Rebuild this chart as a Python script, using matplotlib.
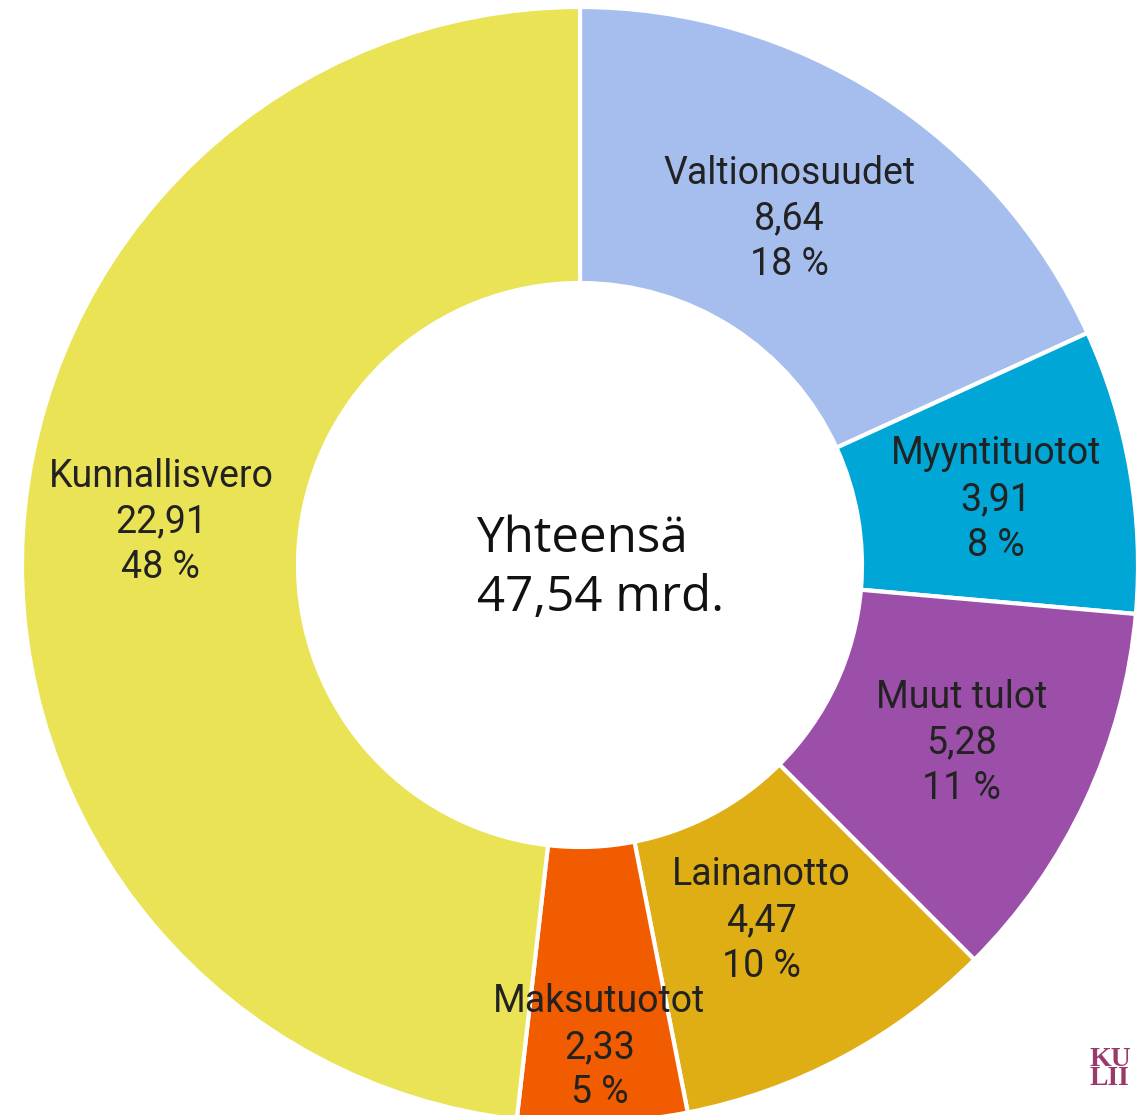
import numpy as np
import matplotlib.pyplot as plt

# ============================================================
# Data
# ============================================================

labels  = ["Valtionosuudet", "Myyntituotot", "Muut tulot",
           "Lainanotto", "Maksutuotot", "Kunnallisvero"]
values  = [8.64, 3.91, 5.28, 4.47, 2.33, 22.91]
percent = [18, 8, 11, 10, 5, 48]
colors  = ["#A6BEEE", "#00A6D6", "#9B4FA9", "#DFAE14", "#F25C00", "#E9E355"]
total_text = "Yhteensä\n47,54 mrd."

# label radius (share of outer radius) and angle nudge (deg), per slice
label_r   = [0.725, 0.755, 0.755, 0.715, 0.865, 0.755]
label_da  = [-1.5, 0.8, 0.0, 1.0, 0.0, 2.6]

# ============================================================
# Figure (data units = pixels)
# ============================================================

W, H = 1140, 1115
CX, CY = 580, H - 565
R_OUT, R_IN = 558, 282

fig = plt.figure(figsize=(W / 100, H / 100), dpi=100)
ax = fig.add_axes([0, 0, 1, 1])

ax.pie(values, colors=colors, startangle=90, counterclock=False,
       center=(CX, CY), radius=R_OUT,
       wedgeprops=dict(width=R_OUT - R_IN, edgecolor="white", linewidth=3))

ax.set_xlim(0, W)
ax.set_ylim(0, H)
ax.set_aspect("equal")
ax.axis("off")

# slice labels
cum = np.cumsum([0] + values[:-1])
tot = sum(values)
for lab, v, p, c0, lr, da in zip(labels, values, percent, cum, label_r, label_da):
    ang = np.deg2rad((c0 + v / 2) / tot * 360 + da)
    x = CX + np.sin(ang) * lr * R_OUT
    y = CY + np.cos(ang) * lr * R_OUT
    txt = f"{lab}\n{v:.2f}".replace(".", ",") + f"\n{p} %"
    ax.text(x, y, txt, ha="center", va="center", fontsize=27,
            family="Roboto", color="#222222", linespacing=1.3)

# centre total
ax.text(477, H - 569, total_text, ha="left", va="center", fontsize=35.5,
        family="Open Sans", color="#111111", linespacing=1.25)

# logo (only its left corner shows in the reference)
ax.text(1089, H - 1069, "KU\nLII", ha="left", va="center", fontsize=20,
        family="Liberation Serif", color="#9A3A6C", fontweight="bold",
        linespacing=0.7)

fig.savefig("out.png", dpi=100)
